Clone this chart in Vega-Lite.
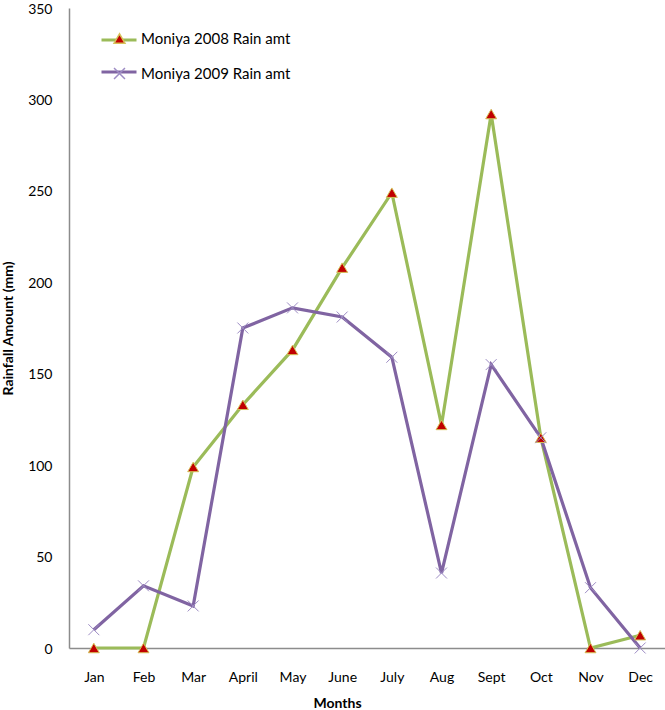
{
  "$schema": "https://vega.github.io/schema/vega-lite/v6.json",
  "width": 596,
  "height": 640,
  "autosize": {"type": "none"},
  "padding": {"left": 69, "top": 8, "right": 0, "bottom": 62},
  "background": "white",
  "config": {
    "view": {"stroke": null},
    "font": "Lato",
    "axis": {"grid": false, "ticks": false, "domainColor": "#8c8c8c", "domainWidth": 1.5, "labelFont": "Lato", "labelFontSize": 14, "labelColor": "#000", "labelOverlap": false, "titleFont": "Lato", "titleFontSize": 14, "titleFontWeight": "bold", "titleColor": "#000"}
  },
  "data": {
    "values": [
      {"month": "Jan", "series": "Moniya 2008 Rain amt", "value": 0},
      {"month": "Feb", "series": "Moniya 2008 Rain amt", "value": 0},
      {"month": "Mar", "series": "Moniya 2008 Rain amt", "value": 99},
      {"month": "April", "series": "Moniya 2008 Rain amt", "value": 133},
      {"month": "May", "series": "Moniya 2008 Rain amt", "value": 163},
      {"month": "June", "series": "Moniya 2008 Rain amt", "value": 208},
      {"month": "July", "series": "Moniya 2008 Rain amt", "value": 249},
      {"month": "Aug", "series": "Moniya 2008 Rain amt", "value": 122},
      {"month": "Sept", "series": "Moniya 2008 Rain amt", "value": 292},
      {"month": "Oct", "series": "Moniya 2008 Rain amt", "value": 115},
      {"month": "Nov", "series": "Moniya 2008 Rain amt", "value": 0},
      {"month": "Dec", "series": "Moniya 2008 Rain amt", "value": 7},
      {"month": "Jan", "series": "Moniya 2009 Rain amt", "value": 10},
      {"month": "Feb", "series": "Moniya 2009 Rain amt", "value": 34},
      {"month": "Mar", "series": "Moniya 2009 Rain amt", "value": 23},
      {"month": "April", "series": "Moniya 2009 Rain amt", "value": 175},
      {"month": "May", "series": "Moniya 2009 Rain amt", "value": 186},
      {"month": "June", "series": "Moniya 2009 Rain amt", "value": 181},
      {"month": "July", "series": "Moniya 2009 Rain amt", "value": 159},
      {"month": "Aug", "series": "Moniya 2009 Rain amt", "value": 41},
      {"month": "Sept", "series": "Moniya 2009 Rain amt", "value": 155},
      {"month": "Oct", "series": "Moniya 2009 Rain amt", "value": 115},
      {"month": "Nov", "series": "Moniya 2009 Rain amt", "value": 33},
      {"month": "Dec", "series": "Moniya 2009 Rain amt", "value": 0}
    ]
  },
  "encoding": {
    "x": {"field": "month", "type": "ordinal", "sort": ["Jan","Feb","Mar","April","May","June","July","Aug","Sept","Oct","Nov","Dec"], "scale": {"type": "point", "padding": 0.5}, "axis": {"title": "Months", "labelAngle": 0, "labelPadding": 22, "titlePadding": 12, "titleX": 268, "titleAnchor": "middle"}},
    "y": {"field": "value", "type": "quantitative", "scale": {"domain": [0, 350], "nice": false}, "axis": {"title": "Rainfall Amount (mm)", "values": [0,50,100,150,200,250,300,350], "labelPadding": 17, "labelOffset": 1, "titlePadding": 12}}
  },
  "layer": [
    {
      "mark": {"type": "line", "strokeWidth": 3.2},
      "encoding": {
        "color": {"field": "series", "type": "nominal", "scale": {"domain": ["Moniya 2008 Rain amt", "Moniya 2009 Rain amt"], "range": ["#9bbb59", "#8064a2"]},
          "legend": {"orient": "none", "legendX": 31, "legendY": 13, "title": null, "symbolType": "stroke", "symbolSize": 1225, "symbolStrokeWidth": 3, "labelExpr": "''", "rowPadding": 6, "labelFontSize": 13}}
      }
    },
    {
      "mark": {"type": "point", "filled": false, "opacity": 1, "strokeWidth": 1},
      "encoding": {
        "shape": {"field": "series", "type": "nominal", "scale": {"range": ["triangle-up", "M-1,-1L1,1M-1,1L1,-1"]},
          "legend": {"orient": "none", "legendX": 43, "legendY": 23, "title": null, "symbolSize": 120, "labelOffset": 14, "rowPadding": 18, "labelFont": "Lato", "labelFontSize": 15, "labelColor": "#000"}},
        "fill": {"field": "series", "type": "nominal", "scale": {"range": ["#c00000", "transparent"]}},
        "stroke": {"field": "series", "type": "nominal", "scale": {"range": ["#d6c25a", "#9d8cc4"]}},
        "size": {"value": 120}
      }
    }
  ]
}
